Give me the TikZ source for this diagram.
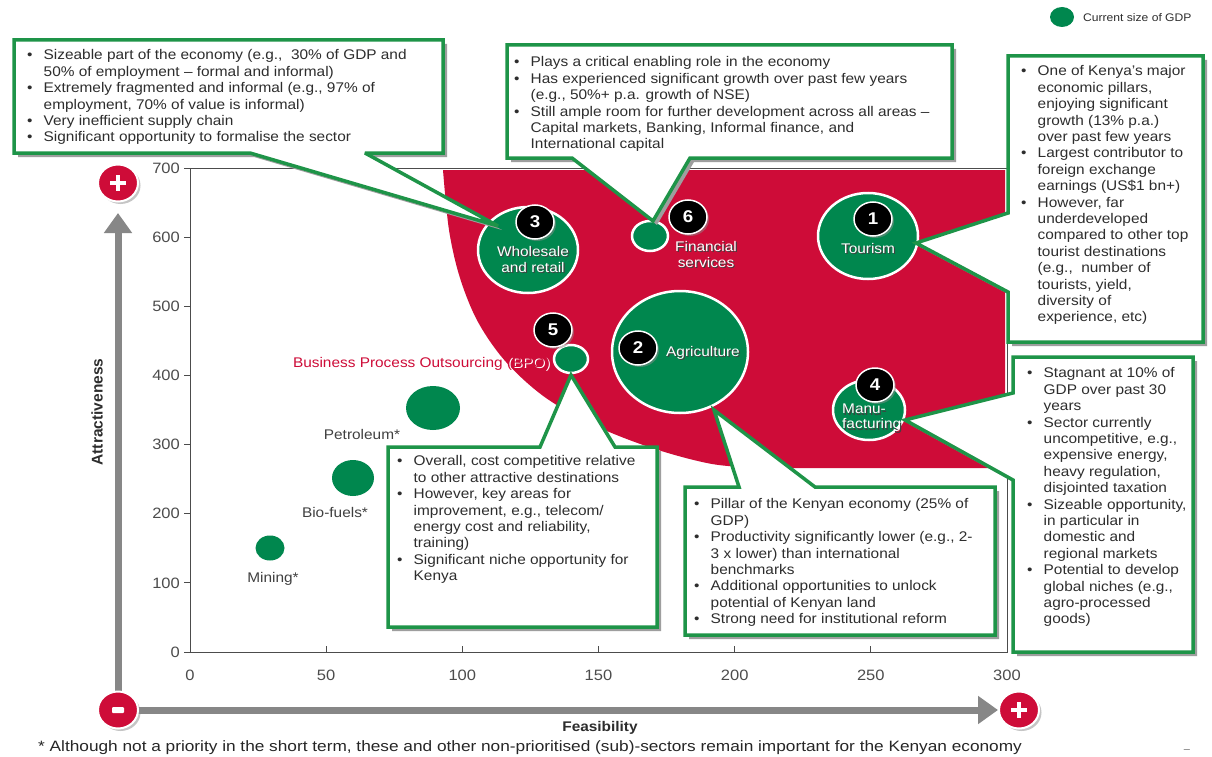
\documentclass[tikz,border=0pt]{standalone}
\usepackage{fontspec}
\setmainfont{Liberation Sans}[FakeStretch=1.1]
\newfontfamily\plainsans{Liberation Sans}
\newfontfamily\widesans{Liberation Sans}[FakeStretch=1.15]
\usetikzlibrary{arrows.meta,calc,shapes.geometric,shadows}
\definecolor{kred}{RGB}{206,12,56}
\definecolor{kgreen}{RGB}{0,135,78}
\definecolor{bgreen}{RGB}{30,148,72}
\definecolor{agray}{RGB}{135,135,135}
\definecolor{txt}{RGB}{45,45,45}
\newlength\bi \setlength\bi{16.5pt}
\newcommand\bl{\makebox[\bi][l]{\textbullet}}
\newcommand\ct{\hspace*{\bi}}
\begin{document}
\begin{tikzpicture}[x=1pt,y=-1pt,
  box/.style={draw=bgreen,line width=3.5pt,fill=white,line join=miter,miter limit=4},
  boxshadow/.style={fill=black!38},
  boxtext/.style={anchor=north west,inner sep=0pt,align=left,text=txt,font=\fontsize{14}{16.4}\selectfont},
  bubble/.style={ellipse,fill=kgreen,draw=white,line width=2.5pt,inner sep=0pt},
  dot/.style={ellipse,fill=kgreen,inner sep=0pt},
  badge/.style={ellipse,fill=black,draw=white,line width=1.5pt,inner sep=0pt,minimum width=38pt,minimum height=34pt,
     text=white,font=\bfseries\fontsize{17}{17}\selectfont,drop shadow={shadow xshift=2pt,shadow yshift=-2pt,fill=black!45}},
  pm/.style={ellipse,fill=kred,draw=white,line width=2pt,inner sep=0pt,minimum width=40pt,minimum height=37pt,
     drop shadow={shadow xshift=2.5pt,shadow yshift=-2.5pt,fill=black!45}},
  clbl/.style={inner sep=0pt,text=white,font=\fontsize{14}{15}\selectfont,align=center},
  clblsh/.style={clbl,text=black!75,xshift=1.2pt,yshift=-1.2pt},
  ticklbl/.style={inner sep=0pt,text=black!70,font=\fontsize{15}{15}\selectfont},
  dlbl/.style={inner sep=0pt,text=black!75,font=\fontsize{14}{14}\selectfont},
  bpo/.style={inner sep=0pt,anchor=east,font=\fontsize{14}{14}\selectfont},
]
\useasboundingbox (0,0) rectangle (1212,757);
\fill[white] (0,0) rectangle (1212,757);

% legend
\node[dot,minimum width=24pt,minimum height=20pt] (leg) at (1062,17) {};
\node[anchor=west,inner sep=0pt,text=txt,font=\fontsize{11}{11}\selectfont] (legt) at (1083,18) {Current size of GDP};

% axis arrows
\draw[agray,line width=7pt,-{Triangle[width=27pt,length=20pt]}] (118,710) -- (118,213);
\draw[agray,line width=7pt,-{Triangle[width=27pt,length=20pt]}] (118,710) -- (998,710);
\node[pm] (plusy) at (118,183) {};
\draw[white,line width=3.8pt] (110,183) -- (126,183) (118,175) -- (118,191);
\node[pm] (minus) at (118,710) {};
\fill[white,rounded corners=1pt] (112,707) rectangle (124,713);
\node[pm] (plusx) at (1019,710) {};
\draw[white,line width=3.8pt] (1011,710) -- (1027,710) (1019,702) -- (1019,718);

% red attractive zone
\fill[kred] plot[smooth,tension=0.55] coordinates {(443,170) (449,230) (460,278) (478,322) (506,362) (546,398) (598,427) (655,449) (712,464) (760,468)}
  -- (1005,468) -- (1005,170) -- cycle;

% plot frame and ticks
\draw[black!70,line width=0.9pt] (190,168) rectangle (1007,652);
\foreach \v in {0,100,...,700} {
  \draw[black!70,line width=0.9pt] (190,{652-\v*0.6914}) -- ++(-6,0);
  \node[ticklbl,anchor=east] at (180,{652-\v*0.6914}) {\v};
}
\foreach \v in {0,50,...,300} {
  \draw[black!70,line width=0.9pt] ({190+\v*2.7233},652) -- ++(0,-6);
  \node[ticklbl] at ({190+\v*2.7233},675) {\v};
}

% small sectors
\node[dot,minimum width=54pt,minimum height=44pt] (petro) at (433,408) {};
\node[dot,minimum width=42pt,minimum height=36pt] (bio) at (353,478) {};
\node[dot,minimum width=29pt,minimum height=25pt] (mining) at (270,548) {};
\node[dlbl] at (362,434) {Petroleum*};
\node[dlbl] at (335,512) {Bio-fuels*};
\node[dlbl] at (273,579) {Mining*};

% priority sectors
\node[bubble,minimum width=100pt,minimum height=86pt] (c1) at (868,236) {};
\node[bubble,minimum width=136pt,minimum height=122pt] (c2) at (680,352) {};
\node[bubble,minimum width=100pt,minimum height=86pt] (c3) at (528,250) {};
\node[bubble,minimum width=72pt,minimum height=60pt] (c4) at (869,410) {};
\node[bubble,minimum width=34pt,minimum height=28pt] (c5) at (571,359) {};
\node[bubble,minimum width=36pt,minimum height=30pt] (c6) at (650,236) {};

% callouts: shadows
\begin{scope}[shift={(4,4)}]
\fill[boxshadow] (14,40) -- (443,40) -- (443,153) -- (365,153) -- (498,226) -- (250,153) -- (14,153) -- cycle;
\fill[boxshadow] (507,45) -- (952,45) -- (952,158) -- (690,158) -- (653,221) -- (572,158) -- (507,158) -- cycle;
\fill[boxshadow] (1008,56) -- (1203,56) -- (1203,342) -- (1008,342) -- (1008,292) -- (916,243) -- (1008,213) -- cycle;
\fill[boxshadow] (1013,357) -- (1193,357) -- (1193,652) -- (1013,652) -- (1013,480) -- (905,420) -- (1013,393) -- cycle;
\fill[boxshadow] (388,447) -- (540,447) -- (571,375) -- (615,447) -- (657,447) -- (657,627) -- (388,627) -- cycle;
\fill[boxshadow] (685,487) -- (739,487) -- (714,410) -- (815,487) -- (995,487) -- (995,635) -- (685,635) -- cycle;
\end{scope}
% callouts
\draw[box] (14,40) -- (443,40) -- (443,153) -- (365,153) -- (498,226) -- (250,153) -- (14,153) -- cycle;
\draw[box] (507,45) -- (952,45) -- (952,158) -- (690,158) -- (653,221) -- (572,158) -- (507,158) -- cycle;
\draw[box] (1008,56) -- (1203,56) -- (1203,342) -- (1008,342) -- (1008,292) -- (916,243) -- (1008,213) -- cycle;
\draw[box] (1013,357) -- (1193,357) -- (1193,652) -- (1013,652) -- (1013,480) -- (905,420) -- (1013,393) -- cycle;
\draw[box] (388,447) -- (540,447) -- (571,375) -- (615,447) -- (657,447) -- (657,627) -- (388,627) -- cycle;
\draw[box] (685,487) -- (739,487) -- (714,410) -- (815,487) -- (995,487) -- (995,635) -- (685,635) -- cycle;

% callout texts
\node[boxtext] (tA) at (27,49.5) {\bl Sizeable part of the economy (e.g.,~~30\% of GDP and\\
\ct 50\% of employment -- formal and informal)\\
\bl Extremely fragmented and informal (e.g., 97\% of\\
\ct employment, 70\% of value is informal)\\
\bl Very inefficient supply chain\\
\bl Significant opportunity to formalise the sector};
\node[boxtext] (tB) at (514,56.5) {\bl Plays a critical enabling role in the economy\\
\bl Has experienced significant growth over past few years\\
\ct (e.g., 50\%+ p.a. growth of NSE)\\
\bl Still ample room for further development across all areas --\\
\ct Capital markets, Banking, Informal finance, and\\
\ct International capital};
\node[boxtext] (tC) at (1021,65.5) {\bl One of Kenya's major\\
\ct economic pillars,\\
\ct enjoying significant\\
\ct growth (13\% p.a.)\\
\ct over past few years\\
\bl Largest contributor to\\
\ct foreign exchange\\
\ct earnings (US\$1 bn+)\\
\bl However, far\\
\ct underdeveloped\\
\ct compared to other top\\
\ct tourist destinations\\
\ct (e.g.,~~number of\\
\ct tourists, yield,\\
\ct diversity of\\
\ct experience, etc)};
\node[boxtext] (tD) at (1027,367.5) {\bl Stagnant at 10\% of\\
\ct GDP over past 30\\
\ct years\\
\bl Sector currently\\
\ct uncompetitive, e.g.,\\
\ct expensive energy,\\
\ct heavy regulation,\\
\ct disjointed taxation\\
\bl Sizeable opportunity,\\
\ct in particular in\\
\ct domestic and\\
\ct regional markets\\
\bl Potential to develop\\
\ct global niches (e.g.,\\
\ct agro-processed\\
\ct goods)};
\node[boxtext] (tE) at (397,455.5) {\bl Overall, cost competitive relative\\
\ct to other attractive destinations\\
\bl However, key areas for\\
\ct improvement, e.g., telecom/\\
\ct energy cost and reliability,\\
\ct training)\\
\bl Significant niche opportunity for\\
\ct Kenya};
\node[boxtext] (tF) at (694,498.5) {\bl Pillar of the Kenyan economy (25\% of\\
\ct GDP)\\
\bl Productivity significantly lower (e.g., 2-\\
\ct 3 x lower) than international\\
\ct benchmarks\\
\bl Additional opportunities to unlock\\
\ct potential of Kenyan land\\
\bl Strong need for institutional reform};

% sector labels
\node[clblsh] at (868,248) {Tourism};
\node[clbl] (l1) at (868,248) {Tourism};
\node[clblsh] at (703,353) {Agriculture};
\node[clbl] (l2) at (703,353) {Agriculture};
\node[clblsh,font=\fontsize{14}{16.5}\selectfont] at (533,259.5) {Wholesale\\and retail};
\node[clbl,font=\fontsize{14}{16.5}\selectfont] (l3) at (533,259.5) {Wholesale\\and retail};
\node[clblsh,align=left,anchor=west] at (842,418) {Manu-\\facturing};
\node[clbl,align=left,anchor=west] (l4) at (842,418) {Manu-\\facturing};
\node[clblsh,font=\fontsize{14}{16.5}\selectfont] at (706,254.5) {Financial\\services};
\node[clbl,font=\fontsize{14}{16.5}\selectfont] (l6) at (706,254.5) {Financial\\services};
\node[bpo,text=white,xshift=1.3pt,yshift=-1.3pt] at (550,364) {Business Process Outsourcing (BPO)};
\node[bpo,text=kred] (l5) at (550,364) {Business Process Outsourcing (BPO)};

% badges
\node[badge] (b1) at (873,219) {1};
\node[badge] (b2) at (638,348) {2};
\node[badge] (b3) at (535,222) {3};
\node[badge] (b4) at (875,385) {4};
\node[badge] (b5) at (553,330) {5};
\node[badge] (b6) at (688,217) {6};

% axis titles and footnote
\node[inner sep=0pt,font=\bfseries\fontsize{14}{14}\selectfont,text=txt] (xt) at (600,728) {Feasibility};
\node[inner sep=0pt,rotate=90,font=\plainsans\bfseries\fontsize{15.5}{15.5}\selectfont,text=txt] (yt) at (97,412) {Attractiveness};
\node[inner sep=0pt,anchor=west,font=\widesans\fontsize{15}{15}\selectfont,text=black!85] (fn) at (38,748) {* Although not a priority in the short term, these and other non-prioritised (sub)-sectors remain important for the Kenyan economy};
\node[inner sep=0pt,font=\fontsize{10}{10}\selectfont,text=black!60] (dash) at (1187,751) {--};
\end{tikzpicture}
\end{document}
